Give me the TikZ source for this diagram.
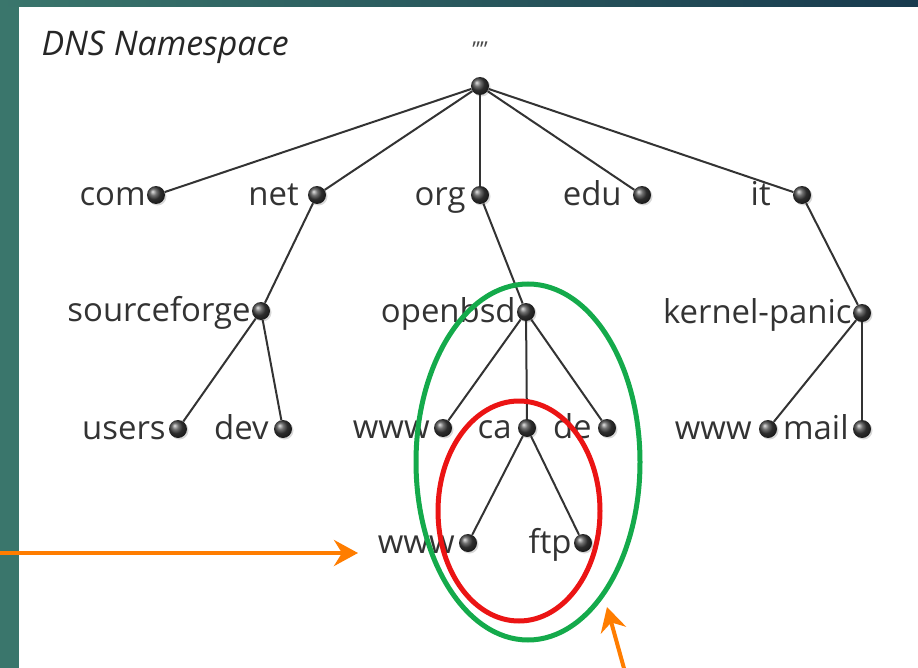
\documentclass[tikz,border=0pt]{standalone}
\usepackage{fontspec}
\setmainfont{Open Sans}
\usetikzlibrary{positioning,arrows.meta,shadows}

\definecolor{slideteal}{RGB}{58,118,108}
\definecolor{slidenavy}{RGB}{24,58,78}
\definecolor{pointerorange}{RGB}{255,125,0}
\definecolor{zonegreen}{RGB}{20,170,75}
\definecolor{zonered}{RGB}{235,20,20}

\begin{document}
\begin{tikzpicture}[x=1bp,y=-1bp,
    ball/.style={circle,inner sep=0pt,minimum size=18bp,shading=ball,ball color=black!75,
      drop shadow={shadow xshift=1.5bp,shadow yshift=-1.5bp,opacity=0.3}},
    hostlabel/.style={inner sep=0pt,anchor=base east,yshift=-10bp,text=black!80,font=\fontsize{33}{35}\selectfont},
    link/.style={draw=black!80,line width=2bp},
    zone/.style={line width=5bp},
    pointer/.style={draw=pointerorange,line width=4bp,-{Stealth[length=24bp,width=26bp,inset=8bp]}}
    ]

  % slide background
  \fill[slideteal] (0,0) rectangle (918,668);
  \shade[left color=slideteal,right color=slidenavy] (0,0) rectangle (918,7);
  \fill[white] (19,7) rectangle (918,668);
  \useasboundingbox (0,0) rectangle (918,668);

  \node(title) [anchor=base west,text=black!85,font=\fontsize{34}{36}\selectfont\itshape] at (38,56) {DNS Namespace};

  % root
  \node(root) [ball] at (480,86) {};
  \node(rootName) [text=black!70,font=\fontsize{22}{22}\selectfont] at (480,50) {""};

  % top level domains
  \node(com) [ball] at (156,195) {};
  \node(net) [ball] at (317,195) {};
  \node(org) [ball] at (480,195) {};
  \node(edu) [ball] at (642,195) {};
  \node(it) [ball] at (802,195) {};
  \node [left=1bp of com,hostlabel] {com};
  \node [left=9bp of net,hostlabel] {net};
  \node [left=5bp of org,hostlabel] {org};
  \node [left=11bp of edu,hostlabel] {edu};
  \node [left=22bp of it,hostlabel] {it};

  % second level
  \node(sourceforge) [ball] at (261,311) {};
  \node(openbsd) [ball] at (526,312) {};
  \node(kernelpanic) [ball] at (862,313) {};
  \node [left=1bp of sourceforge,hostlabel] {sourceforge};
  \node [left=1bp of openbsd,hostlabel] {openbsd};
  \node [left=1bp of kernelpanic,hostlabel] {kernel-panic};

  % third level
  \node(users) [ball] at (178,429) {};
  \node(dev) [ball] at (283,429) {};
  \node(wwwA) [ball] at (443,428) {};
  \node(ca) [ball] at (527,428) {};
  \node(de) [ball] at (607,428) {};
  \node(wwwB) [ball] at (768,429) {};
  \node(mail) [ball] at (862,429) {};
  \node [left=3bp of users,hostlabel] {users};
  \node [left=5bp of dev,hostlabel] {dev};
  \node [left=4bp of wwwA,hostlabel] {www};
  \node [left=6bp of ca,hostlabel] {ca};
  \node [left=6bp of de,hostlabel] {de};
  \node [left=7bp of wwwB,hostlabel] {www};
  \node [left=4bp of mail,hostlabel] {mail};

  % fourth level
  \node(wwwC) [ball] at (468,543) {};
  \node(ftp) [ball] at (583,543) {};
  \node [left=4bp of wwwC,hostlabel] {www};
  \node [left=2bp of ftp,hostlabel] {ftp};

  \foreach \child in {com,net,org,edu,it}
    \draw[link] (root) -- (\child);
  \draw[link] (net) -- (sourceforge);
  \draw[link] (org) -- (openbsd);
  \draw[link] (it) -- (kernelpanic);
  \draw[link] (sourceforge) -- (users);
  \draw[link] (sourceforge) -- (dev);
  \foreach \child in {wwwA,ca,de}
    \draw[link] (openbsd) -- (\child);
  \draw[link] (kernelpanic) -- (wwwB);
  \draw[link] (kernelpanic) -- (mail);
  \draw[link] (ca) -- (wwwC);
  \draw[link] (ca) -- (ftp);

  % zones
  \draw[zone,zonegreen] (528,462) ellipse [x radius=112, y radius=178];
  \draw[zone,zonered] (519,511) ellipse [x radius=81, y radius=110];

  % pointers
  \coordinate(leftStart) at (0,553);
  \coordinate(leftTip) at (358,553);
  \coordinate(bottomStart) at (625,672);
  \coordinate(bottomTip) at (607,607);
  \draw[pointer] (leftStart) -- (leftTip);
  \draw[pointer] (bottomStart) -- (bottomTip);

  \end{tikzpicture}
\end{document}
